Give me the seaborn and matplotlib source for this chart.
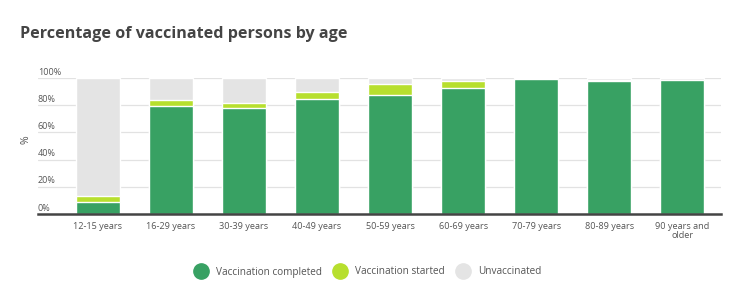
import matplotlib
matplotlib.use("Agg")
import matplotlib.pyplot as plt
import matplotlib.transforms as mtransforms
from matplotlib.lines import Line2D
import seaborn as sns
import pandas as pd

categories = ["12-15 years", "16-29 years", "30-39 years", "40-49 years", "50-59 years",
              "60-69 years", "70-79 years", "80-89 years", "90 years and\nolder"]
completed = [8.5, 79.3, 77.8, 84.6, 87.8, 92.7, 99.1, 97.8, 98.5]
started = [4.7, 4.6, 3.7, 5.4, 8.1, 5.1, 0.4, 0.5, 0.2]
yticks = [0, 20, 40, 60, 80, 100]
series_names = ["Vaccination completed", "Vaccination started", "Unvaccinated"]

GREEN = "#38a163"
LIME = "#b7df2e"
GRAY = "#e4e4e4"
TXT = "#555555"

sns.set_theme(style="white")
plt.rcParams['font.family'] = ['Open Sans', 'DejaVu Sans']

df = pd.DataFrame({"age": categories, "completed": completed, "started": started})
df["started_top"] = df["completed"] + df["started"]
df["total"] = 100.0

fig = plt.figure(figsize=(7.44, 2.91), dpi=100)
ax = fig.add_axes([38/744, 1-214/291, (721-38)/744, (214-78)/291])

for y in yticks[1:]:
    ax.axhline(y, color="#e2e2e2", lw=0.9, zorder=0)

sns.barplot(data=df, x="age", y="total", color=GRAY, width=0.6, saturation=1, ax=ax, zorder=2)
sns.barplot(data=df, x="age", y="started_top", color=LIME, width=0.6, saturation=1, ax=ax, zorder=3)
sns.barplot(data=df, x="age", y="completed", color=GREEN, width=0.6, saturation=1, ax=ax, zorder=4)

ax.set_xlim(-0.82, 8.53)
ax.set_ylim(0, 100)
ax.set_xlabel("")
ax.set_ylabel("")
sns.despine(ax=ax, left=True, top=True, right=True)
ax.spines["bottom"].set_color("#444444")
ax.spines["bottom"].set_linewidth(1.8)
ax.spines["bottom"].set_zorder(6)
ax.set_yticks([])
ax.tick_params(axis="x", length=0, pad=5.5, labelsize=6.6, labelcolor=TXT)
for lab in ax.get_xticklabels():
    lab.set_linespacing(1.1)
    lab.set_verticalalignment("top")

trans = mtransforms.blended_transform_factory(ax.transAxes, ax.transData)
for y in yticks:
    ax.text(0, y + 1.0, f"{y}%", transform=trans, ha="left", va="bottom",
            fontsize=6.5, color=TXT)

fig.text(26/744, 1-140/291, "%", rotation=90, ha="center", va="center", fontsize=7.5, color=TXT)

fig.text(20/744, 1-34/291, "Percentage of vaccinated persons by age", ha="left", va="center",
         fontsize=11.6, fontweight="bold", color="#444444")

handles = [Line2D([0], [0], marker="o", linestyle="", markersize=11, markerfacecolor=c,
                  markeredgecolor=c) for c in (GREEN, LIME, GRAY)]
fig.legend(handles, series_names, loc="center", bbox_to_anchor=(368/744, 1-272/291), ncol=3,
           frameon=False, fontsize=7.2, labelcolor=TXT, handletextpad=0.9, columnspacing=1.2,
           handlelength=1.2)

fig.savefig("out.png", dpi=100, facecolor="white")
